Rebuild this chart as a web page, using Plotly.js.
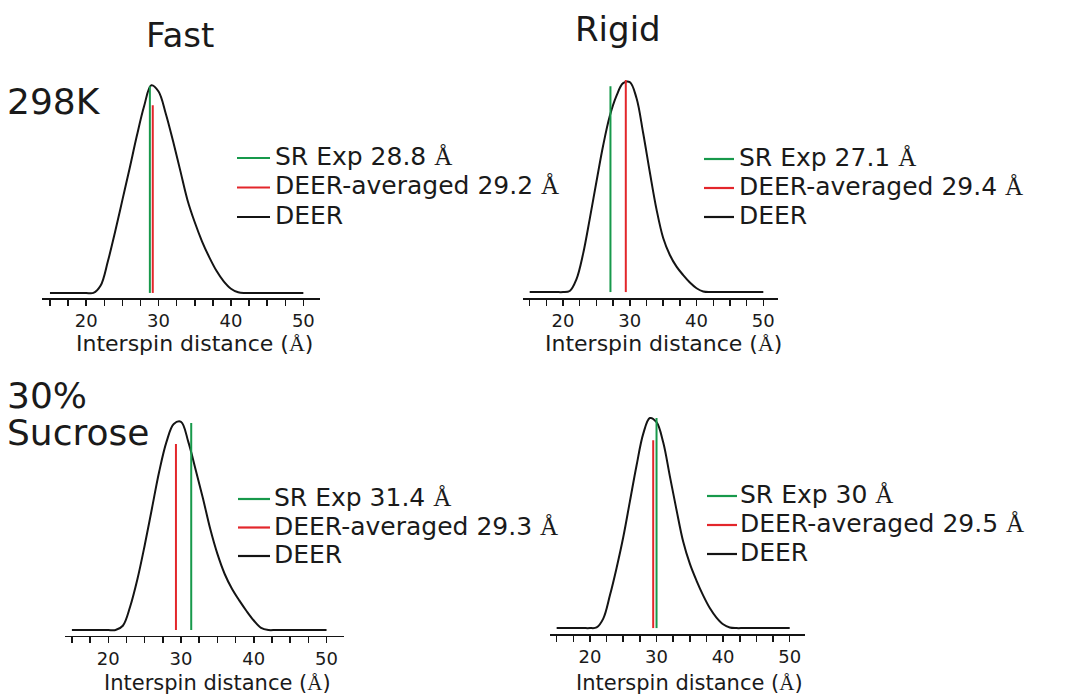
<!DOCTYPE html>
<html>
<head>
<meta charset="utf-8">
<script src="https://cdn.plot.ly/plotly-3.0.1.min.js"></script>
<style>
  html, body { margin: 0; padding: 0; background: #fff; }
  #chart { width: 1068px; height: 696px; }
</style>
</head>
<body>
<div id="chart"></div>
<script>
// ---- data ----
const distance = [15,16,17,18,19,20,21,22,23,24,25,26,27,28,29,30,31,32,33,34,35,36,37,38,39,40,41,42,43,44,45,46,47,48,49,50];

// DEER distance distributions (normalised to peak = 1)
const deerFast298   = [0,0,0,0,0,0,0,0.035,0.15,0.29,0.44,0.59,0.745,0.885,0.985,0.955,0.85,0.72,0.58,0.44,0.335,0.245,0.17,0.105,0.055,0.02,0.003,0,0,0,0,0,0,0,0,0];
const deerRigid298  = [0,0,0,0,0,0,0.005,0.06,0.18,0.345,0.52,0.69,0.83,0.925,0.985,0.99,0.915,0.75,0.565,0.39,0.255,0.175,0.12,0.08,0.045,0.018,0.003,0,0,0,0,0,0,0,0,0];
const deerFastSuc   = [0,0,0,0,0,0,0,0.02,0.11,0.24,0.40,0.575,0.75,0.89,0.975,0.985,0.89,0.76,0.625,0.48,0.36,0.265,0.195,0.14,0.09,0.045,0.01,0,0,0,0,0,0,0,0,0];
const deerRigidSuc  = [0,0,0,0,0,0,0.003,0.045,0.155,0.285,0.43,0.60,0.77,0.92,0.995,0.975,0.88,0.72,0.56,0.41,0.305,0.225,0.155,0.095,0.05,0.018,0.003,0,0,0,0,0,0,0,0,0];

const panelCurves = [deerFast298, deerRigid298, deerFastSuc, deerRigidSuc];
const srExp       = [28.8, 27.1, 31.4, 30];     // SR Exp distance (Å)
const deerAvg     = [29.2, 29.4, 29.3, 29.5];   // DEER-averaged distance (Å)
const srExpHeight   = [0.98, 0.97, 0.98, 0.995];
const deerAvgHeight = [0.89, 1.0, 0.88, 0.89];

const columnTitles = ['Fast', 'Rigid'];
const rowTitles = ['298K', '30%', 'Sucrose'];
const tickValues = [15,17.5,20,22.5,25,27.5,30,32.5,35,37.5,40,42.5,45,47.5,50];
const tickLabels = ['','','20','','','','30','','','','40','','','','50'];
const xTitleText = 'Interspin distance';

// ---- styling ----
const FONT = 'DejaVu Sans, Arial, sans-serif';
const SERIF = "Liberation Serif, DejaVu Serif, serif";
const GREEN = '#17994b';
const RED = '#e3262b';
const BLACK = '#141414';
const TXT = '#1a1a1a';
const W = 1068, H = 696;
const px = v => v / W;
const py = v => 1 - v / H;

const xDomains = [[px(42), px(320)], [px(523), px(778)], [px(65), px(344)], [px(550), px(805)]];
const xRanges  = [[13.9, 52.3], [14, 52.2], [14.05, 52.4], [14, 52.3]];
const yDomains = [[py(298), py(71.5)], [py(298), py(69.4)], [py(635.7), py(408.1)], [py(634), py(406.4)]];
const yRanges  = [[-0.024, 1.05], [-0.028, 1.05], [-0.027, 1.05], [-0.028, 1.05]];
const xTitleY  = [344, 343, 683, 683];
const xTitleSize = [22, 22, 21, 21];
// legend block: [swatch start x, swatch end x, text x, first row centre y, row spacing]
const legendBox = [[237, 270, 273, 156, 29.5], [704, 734, 737, 157, 29], [238, 270, 272, 497, 28.5], [707, 737, 738, 494, 29]];

const angstrom = '<span style="font-family:' + SERIF + '">Å</span>';
const data = [];
const layout = {
  width: W, height: H,
  margin: {l: 0, r: 0, t: 0, b: 0},
  paper_bgcolor: '#fff', plot_bgcolor: 'rgba(0,0,0,0)',
  font: {family: FONT, color: TXT},
  showlegend: false,
  annotations: [],
  shapes: [],
};

for (let i = 0; i < 4; i++) {
  const sfx = i === 0 ? '' : String(i + 1);
  const xa = 'x' + sfx, ya = 'y' + sfx;
  data.push({
    type: 'scatter', mode: 'lines', x: distance, y: panelCurves[i],
    xaxis: xa, yaxis: ya, name: 'DEER',
    line: {color: BLACK, width: 2, shape: 'spline', smoothing: 1},
    hoverinfo: 'skip'
  });
  data.push({
    type: 'scatter', mode: 'lines', x: [deerAvg[i], deerAvg[i]], y: [0, deerAvgHeight[i]],
    xaxis: xa, yaxis: ya, name: 'DEER-averaged',
    line: {color: RED, width: 2}, hoverinfo: 'skip'
  });
  data.push({
    type: 'scatter', mode: 'lines', x: [srExp[i], srExp[i]], y: [0, srExpHeight[i]],
    xaxis: xa, yaxis: ya, name: 'SR Exp',
    line: {color: GREEN, width: 2}, hoverinfo: 'skip'
  });
  layout['xaxis' + sfx] = {
    domain: xDomains[i], range: xRanges[i], anchor: ya,
    showgrid: false, zeroline: false, showline: true, linecolor: BLACK, linewidth: 1.6,
    ticks: 'outside', ticklen: 6, tickwidth: 1.5, tickcolor: BLACK,
    tickmode: 'array', tickvals: tickValues, ticktext: tickLabels,
    tickfont: {family: FONT, size: 18, color: TXT},
    fixedrange: true
  };
  layout['yaxis' + sfx] = {
    domain: yDomains[i], range: yRanges[i], anchor: xa,
    visible: false, showgrid: false, zeroline: false, fixedrange: true
  };
  // axis title, centred over the labelled span of the axis
  layout.annotations.push({
    text: xTitleText + ' (' + angstrom + ')', xref: xa, x: 35, yref: 'paper', y: py(xTitleY[i]),
    xanchor: 'center', yanchor: 'middle', showarrow: false,
    font: {family: FONT, size: xTitleSize[i], color: TXT}
  });
  // legend block
  const [sx0, sx1, tx, ty0, dy] = legendBox[i];
  const entries = [
    ['SR Exp ' + srExp[i] + ' ' + angstrom, GREEN],
    ['DEER-averaged ' + deerAvg[i] + ' ' + angstrom, RED],
    ['DEER', BLACK]
  ];
  entries.forEach(([label, color], k) => {
    const cy = ty0 + k * dy;
    layout.shapes.push({
      type: 'line', xref: 'paper', yref: 'paper',
      x0: px(sx0), x1: px(sx1), y0: py(cy + 2), y1: py(cy + 2),
      line: {color: color, width: 2.2}
    });
    layout.annotations.push({
      text: label, xref: 'paper', yref: 'paper', x: px(tx), y: py(cy + 0.5),
      xanchor: 'left', yanchor: 'middle', showarrow: false,
      font: {family: FONT, size: 25, color: TXT}
    });
  });
}

layout.annotations.push(
  {text: columnTitles[0], x: px(180), y: py(35), xref: 'paper', yref: 'paper', xanchor: 'center', yanchor: 'middle', showarrow: false, font: {family: FONT, size: 34, color: TXT}},
  {text: columnTitles[1], x: px(618), y: py(29), xref: 'paper', yref: 'paper', xanchor: 'center', yanchor: 'middle', showarrow: false, font: {family: FONT, size: 34, color: TXT}},
  {text: rowTitles[0], x: px(5), y: py(101), xref: 'paper', yref: 'paper', xanchor: 'left', yanchor: 'middle', showarrow: false, font: {family: FONT, size: 36, color: TXT}},
  {text: rowTitles[1], x: px(5), y: py(395), xref: 'paper', yref: 'paper', xanchor: 'left', yanchor: 'middle', showarrow: false, font: {family: FONT, size: 36, color: TXT}},
  {text: rowTitles[2], x: px(5), y: py(432), xref: 'paper', yref: 'paper', xanchor: 'left', yanchor: 'middle', showarrow: false, font: {family: FONT, size: 36, color: TXT}}
);

Plotly.newPlot('chart', data, layout, {staticPlot: true, displayModeBar: false});
</script>
</body>
</html>
